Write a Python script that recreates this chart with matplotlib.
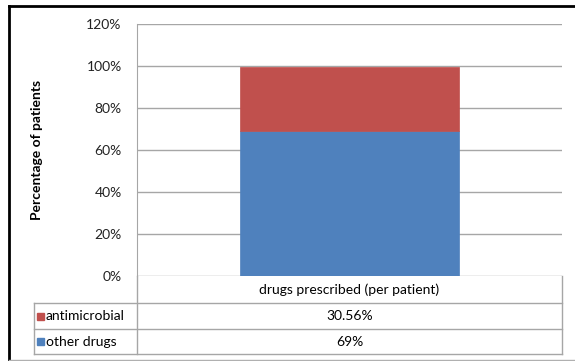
import matplotlib.pyplot as plt
from matplotlib.patches import Rectangle
from matplotlib.lines import Line2D

plt.rcParams['font.family'] = ['Lato', 'DejaVu Sans']

category = 'drugs prescribed (per patient)'
series = ['other drugs', 'antimicrobial']
values = [69, 30.56]
value_labels = ['69%', '30.56%']
colors = ['#4F81BD', '#C0504D']
yticks = [0, 20, 40, 60, 80, 100, 120]

W, H = 575, 361
FS = 10
fig = plt.figure(figsize=(W / 100, H / 100), dpi=100)


def fx(x):
    return x / W


def fy(y):
    return 1 - y / H


# plot area in pixel units
L, R, T, B = 137, 562, 24, 276
ax = fig.add_axes([fx(L), fy(B), fx(R) - fx(L), fy(T) - fy(B)])

bottom = 0
for name, v, c in zip(series, values, colors):
    ax.bar(0, v, width=0.515, bottom=bottom, color=c, edgecolor=c, linewidth=0.5, zorder=3)
    bottom += v

ax.set_xlim(-0.5, 0.5)
ax.set_ylim(0, 120)
ax.set_yticks(yticks)
ax.set_yticklabels([f'{t}%' for t in yticks], fontsize=FS, color='#222222')
ax.set_xticks([])
ax.tick_params(axis='y', length=0, pad=11)
ax.grid(axis='y', color='#a6a6a6', linewidth=1, zorder=0)
for s in ['top', 'right', 'bottom']:
    ax.spines[s].set_visible(False)
ax.spines['left'].set_color('#a6a6a6')

fig.text(fx(37), fy(150), 'Percentage of patients', rotation=90, ha='center', va='center',
         fontsize=FS, fontweight='bold')

# data table under the plot
grid = '#a6a6a6'
rows_y = [B, 303, 329, 354]
tx0 = 34


def hline(y, x0, x1):
    fig.add_artist(Line2D([fx(x0), fx(x1)], [fy(y), fy(y)], color=grid, lw=1))


def vline(x, y0, y1):
    fig.add_artist(Line2D([fx(x), fx(x)], [fy(y0), fy(y1)], color=grid, lw=1))


for y in rows_y[1:]:
    hline(y, tx0, R)
vline(L, B, rows_y[-1])
vline(R, B, rows_y[-1])
vline(tx0, rows_y[1], rows_y[-1])

xc = (L + R) / 2
fig.text(fx(xc), fy((rows_y[0] + rows_y[1]) / 2), category, ha='center', va='center', fontsize=FS)

# table rows list series top-down (reverse of stacking order)
for i, idx in enumerate([1, 0]):
    yc = (rows_y[i + 1] + rows_y[i + 2]) / 2
    fig.add_artist(Rectangle((fx(37), fy(yc + 3.5)), fx(7), fy(0) - fy(7),
                             transform=fig.transFigure, color=colors[idx]))
    fig.text(fx(46), fy(yc), series[idx], ha='left', va='center', fontsize=FS)
    fig.text(fx(xc), fy(yc), value_labels[idx], ha='center', va='center', fontsize=FS)

# outer chart border
fig.add_artist(Line2D([fx(9), fx(9)], [fy(6), fy(361)], color='black', lw=2))
fig.add_artist(Line2D([fx(9), fx(575)], [fy(6), fy(6)], color='black', lw=2))
fig.add_artist(Line2D([fx(9), fx(575)], [fy(359.5), fy(359.5)], color='#b0b0b0', lw=1))

fig.savefig('out.png', dpi=100)
